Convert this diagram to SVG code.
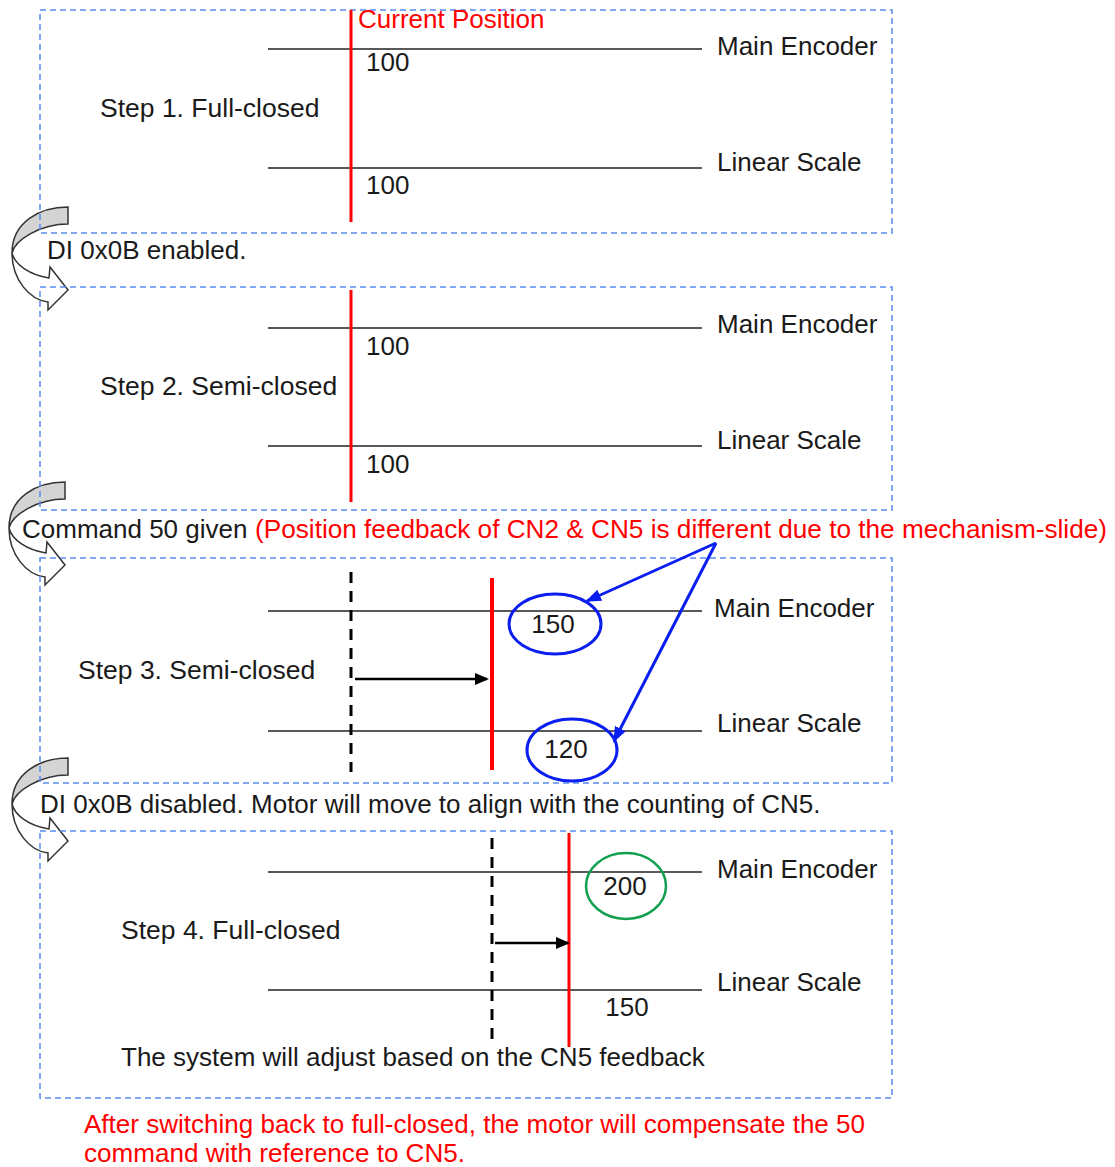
<svg xmlns="http://www.w3.org/2000/svg" width="1115" height="1167" viewBox="0 0 1115 1167">
<style>
text{font-family:"Liberation Sans",Arial,sans-serif;font-size:26px;fill:#1a1a1a}
.st{font-size:26.5px}
.red{fill:#ff0000}
.box{fill:none;stroke:#5b8cf0;stroke-width:1.5;stroke-dasharray:6 4}
.hl{stroke:#222;stroke-width:1.6}
.rl{stroke:#ff0000;stroke-width:3}
.rl4{stroke:#ff0000;stroke-width:4}
.dl{stroke:#000;stroke-width:3;stroke-dasharray:11 8}
.ar{stroke:#000;stroke-width:2.5;marker-end:url(#ah)}
.bar{stroke:#0a1ef0;stroke-width:3;marker-end:url(#bh)}
.cg{fill:#d4d4d4;stroke:#333;stroke-width:1.5}
.cw{fill:#fff;stroke:#333;stroke-width:1.5}
</style>
<defs>
<marker id="ah" markerWidth="14" markerHeight="12" refX="12" refY="6" orient="auto" markerUnits="userSpaceOnUse"><path d="M0,0 L14,6 L0,12 Z" fill="#000"/></marker>
<marker id="bh" markerWidth="16" markerHeight="12" refX="14" refY="6" orient="auto" markerUnits="userSpaceOnUse"><path d="M0,0 L16,6 L0,12 Z" fill="#0a1ef0"/></marker>
<g id="curv">
<path class="cw" d="M0,46 C0,73 18,93 36,95 L36,103 L56,83 L38,60 L37,71 C18,68 3,58 0,46 Z"/>
<path class="cg" d="M56,0 C28,0 0,15 0,46 C3,33 28,17 56,17 Z"/>
</g>
</defs>

<g id="curved-arrows">
<use href="#curv" x="12" y="207"/>
<use href="#curv" x="9" y="482"/>
<use href="#curv" x="12" y="758"/>
</g>

<g id="step1">
<rect class="box" x="40" y="10" width="852" height="223"/>
<line class="hl" x1="268" y1="49" x2="702" y2="49"/>
<line class="hl" x1="268" y1="168" x2="702" y2="168"/>
<line class="rl" x1="351" y1="10" x2="351" y2="222"/>
<text class="red" x="358" y="28">Current Position</text>
<text x="366" y="71">100</text>
<text x="366" y="194">100</text>
<text x="717" y="55">Main Encoder</text>
<text x="717" y="171">Linear Scale</text>
<text class="st" x="100" y="117">Step 1. Full-closed</text>
</g>

<text id="t-enabled" x="47" y="259">DI 0x0B enabled.</text>

<g id="step2">
<rect class="box" x="40" y="287" width="852" height="223"/>
<line class="hl" x1="268" y1="328" x2="702" y2="328"/>
<line class="hl" x1="268" y1="446" x2="702" y2="446"/>
<line class="rl" x1="351" y1="290" x2="351" y2="502"/>
<text x="366" y="355">100</text>
<text x="366" y="473">100</text>
<text x="717" y="333">Main Encoder</text>
<text x="717" y="449">Linear Scale</text>
<text class="st" x="100" y="395">Step 2. Semi-closed</text>
</g>

<g id="t-command">
<text x="22" y="538">Command 50 given</text>
<text class="red" x="255" y="538" textLength="852" lengthAdjust="spacingAndGlyphs">(Position feedback of CN2 &amp; CN5 is different due to the mechanism-slide)</text>
</g>

<g id="step3">
<rect class="box" x="40" y="558" width="852" height="225"/>
<line class="hl" x1="268" y1="611" x2="702" y2="611"/>
<line class="hl" x1="268" y1="731" x2="702" y2="731"/>
<line class="dl" x1="351" y1="572" x2="351" y2="772"/>
<line class="rl4" x1="492" y1="578" x2="492" y2="770"/>
<ellipse cx="555" cy="624" rx="46" ry="30" fill="none" stroke="#0a1ef0" stroke-width="3"/>
<ellipse cx="572" cy="750" rx="45" ry="31" fill="none" stroke="#0a1ef0" stroke-width="3"/>
<text x="553" y="633" text-anchor="middle">150</text>
<text x="566" y="758" text-anchor="middle">120</text>
<text x="714" y="617">Main Encoder</text>
<text x="717" y="732">Linear Scale</text>
<text class="st" x="78" y="679">Step 3. Semi-closed</text>
</g>

<text id="t-disabled" x="40" y="813">DI 0x0B disabled. Motor will move to align with the counting of CN5.</text>

<g id="step4">
<rect class="box" x="40" y="831" width="852" height="267"/>
<line class="hl" x1="268" y1="872" x2="702" y2="872"/>
<line class="hl" x1="268" y1="990" x2="702" y2="990"/>
<line class="dl" x1="492" y1="838" x2="492" y2="1040"/>
<line class="rl" x1="569" y1="833" x2="569" y2="1047"/>
<ellipse cx="626" cy="886" rx="40" ry="33" fill="none" stroke="#12a050" stroke-width="2.5"/>
<text x="625" y="895" text-anchor="middle">200</text>
<text x="627" y="1016" text-anchor="middle">150</text>
<text x="717" y="878">Main Encoder</text>
<text x="717" y="991">Linear Scale</text>
<text class="st" x="121" y="939">Step 4. Full-closed</text>
<text x="121" y="1066">The system will adjust based on the CN5 feedback</text>
</g>

<g id="connectors">
<line class="ar" x1="355" y1="679" x2="487" y2="679"/>
<line class="ar" x1="495" y1="943" x2="568" y2="943"/>
<line class="bar" x1="716" y1="543" x2="587" y2="601"/>
<line class="bar" x1="716" y1="543" x2="614" y2="741"/>
</g>

<g id="note">
<text class="red" x="84" y="1133" textLength="781" lengthAdjust="spacingAndGlyphs">After switching back to full-closed, the motor will compensate the 50</text>
<text class="red" x="84" y="1162" textLength="381" lengthAdjust="spacingAndGlyphs">command with reference to CN5.</text>
</g>
</svg>
